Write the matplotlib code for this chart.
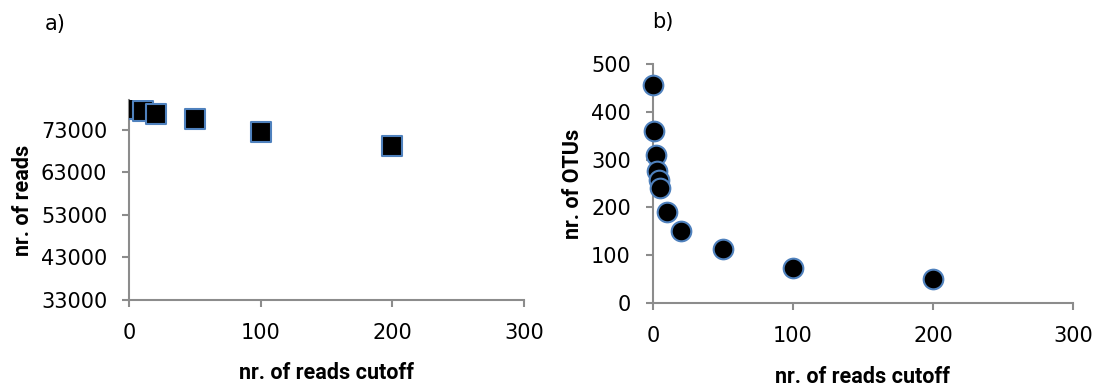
import matplotlib
matplotlib.use("Agg")
import matplotlib.pyplot as plt

# read-count cutoffs used for both panels
cutoffs = [0, 1, 2, 3, 4, 5, 10, 20, 50, 100, 200]
# a) total reads kept after applying each cutoff
reads_kept = [78300, 78200, 78100, 78000, 77900, 77800, 77300, 76800, 75600, 72500, 69300]
# b) number of OTUs remaining
otus_kept = [456, 360, 310, 276, 257, 240, 190, 151, 113, 73, 50]

x_ticks = [0, 100, 200, 300]
reads_ticks = [33000, 43000, 53000, 63000, 73000]
otu_ticks = [0, 100, 200, 300, 400, 500]

plt.rcParams['font.family'] = 'DejaVu Sans'
axis_grey = '#8c8c8c'
edge_blue = '#4f81bd'
label_font = dict(family='Roboto', fontsize=15.5, fontweight='bold')

fig = plt.figure(figsize=(11.04, 3.88), dpi=100)
ax1 = fig.add_axes([0.1173, 0.2268, 0.3573, 0.5155])
ax2 = fig.add_axes([0.5915, 0.2199, 0.3804, 0.6144])


def style_axis(ax):
    for side in ['top', 'right']:
        ax.spines[side].set_visible(False)
    for side in ['left', 'bottom']:
        ax.spines[side].set_color(axis_grey)
        ax.spines[side].set_linewidth(1.5)
    ax.tick_params(axis='both', direction='out', length=5, width=1.5,
                   color=axis_grey, labelsize=15)
    ax.tick_params(axis='x', pad=11.5)
    ax.tick_params(axis='y', pad=11)
    ax.set_xticks(x_ticks)
    ax.set_xlim(0, 300)


ax1.scatter(cutoffs, reads_kept, marker='s', s=190, c='black',
            edgecolors=edge_blue, linewidths=1.5, zorder=3)
style_axis(ax1)
ax1.set_ylim(33000, 80000)
ax1.set_yticks(reads_ticks)
ax1.set_xlabel('nr. of reads cutoff', **label_font)
ax1.set_ylabel('nr. of reads', **label_font)
ax1.xaxis.set_label_coords(0.5, -0.31)
ax1.yaxis.set_label_coords(-0.243, 0.5)

ax2.scatter(cutoffs, otus_kept, marker='o', s=200, c='black',
            edgecolors=edge_blue, linewidths=1.5, zorder=3, clip_on=False)
style_axis(ax2)
ax2.set_ylim(0, 500)
ax2.set_yticks(otu_ticks)
ax2.set_xlabel('nr. of reads cutoff', **label_font)
ax2.set_ylabel('nr. of OTUs', **label_font)
ax2.xaxis.set_label_coords(0.5, -0.265)
ax2.yaxis.set_label_coords(-0.165, 0.5)

fig.text(55 / 1104, 1 - 24 / 388, 'a)', fontsize=15, ha='center', va='center')
fig.text(663 / 1104, 1 - 22 / 388, 'b)', fontsize=15, ha='center', va='center')

fig.savefig('out.png', dpi=100)
